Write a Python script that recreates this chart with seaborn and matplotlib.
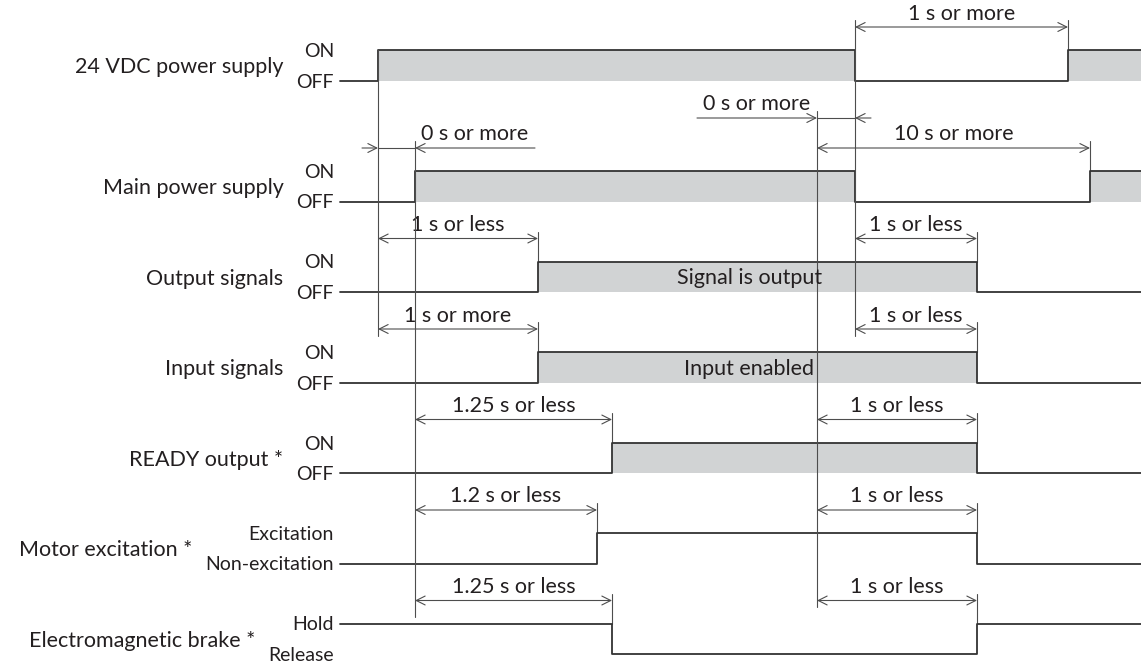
import numpy as np
import pandas as pd
import matplotlib
matplotlib.use("Agg")
import matplotlib.pyplot as plt
import seaborn as sns

# -----------------------------
# data: timing chart rows and events
# -----------------------------
signal_names = ["24 VDC power supply", "Main power supply", "Output signals", "Input signals",
                "READY output *", "Motor excitation *", "Electromagnetic brake *"]
state_labels = [("ON", "OFF"), ("ON", "OFF"), ("ON", "OFF"), ("ON", "OFF"),
                ("ON", "OFF"), ("Excitation", "Non-excitation"), ("Hold", "Release")]

# event times along the (unitless) time axis of the chart
t_start = 340
t_24v_on = 378
t_main_on = 415
t_io_on = 538
t_motor_on = 597
t_ready_on = 612
t_stop = 817
t_off = 855
t_io_off = 977
t_24v_back = 1068
t_main_back = 1090
t_end = 1141

signal_edges = [
    [t_24v_on, t_off, t_24v_back],
    [t_main_on, t_off, t_main_back],
    [t_io_on, t_io_off],
    [t_io_on, t_io_off],
    [t_ready_on, t_io_off],
    [t_motor_on, t_io_off],
    [t_ready_on, t_io_off],
]
initial_state = [0, 0, 0, 0, 0, 0, 1]
shaded = [True, True, True, True, True, False, False]
band_text = {2: "Signal is output", 3: "Input enabled"}

# (row, from, to, label)
dims = [
    (0, t_off, t_24v_back, "1 s or more"),
    (1, t_stop, t_main_back, "10 s or more"),
    (2, t_24v_on, t_io_on, "1 s or less"),
    (2, t_off, t_io_off, "1 s or less"),
    (3, t_24v_on, t_io_on, "1 s or more"),
    (3, t_off, t_io_off, "1 s or less"),
    (4, t_main_on, t_ready_on, "1.25 s or less"),
    (4, t_stop, t_io_off, "1 s or less"),
    (5, t_main_on, t_motor_on, "1.2 s or less"),
    (5, t_stop, t_io_off, "1 s or less"),
    (6, t_main_on, t_ready_on, "1.25 s or less"),
    (6, t_stop, t_io_off, "1 s or less"),
]
# (row, from, to, label, side of text, raised)
outer_dims = [
    (1, t_24v_on, t_main_on, "0 s or more", "right", False),
    (1, t_stop, t_off, "0 s or more", "left", True),
]
reference_events = [t_24v_on, t_main_on, t_stop, t_off]

# -----------------------------
# layout helpers
# -----------------------------
LINE = "#333333"
GUIDE = "#4d4d4d"
FILL = "#d1d3d4"
TXT = "#231f20"
FS = 15.5
FS_STATE = 14
SWING = 30.5


def high(i):
    return 50 if i == 0 else 171 + (i - 1) * 90.5


def low(i):
    return high(i) + SWING


def arrow_y(i, raised=False):
    return high(i) - (53 if raised else 23)


sns.set_theme(style="white")
plt.rcParams["font.family"] = ["Lato", "DejaVu Sans"]

fig = plt.figure(figsize=(11.41, 6.65), dpi=100)
ax = fig.add_axes([0, 0, 1, 1])
ax.set_xlim(0, 1141)
ax.set_ylim(665, 0)
ax.axis("off")

# -----------------------------
# waveforms
# -----------------------------
for i, edges in enumerate(signal_edges):
    state = initial_state[i]
    xs, ys = [t_start], [high(i) if state else low(i)]
    for e in edges:
        xs += [e, e]
        ys += [high(i) if state else low(i)]
        state = 1 - state
        ys += [high(i) if state else low(i)]
    xs.append(t_end)
    ys.append(high(i) if state else low(i))
    if shaded[i]:
        ax.fill_between(xs, ys, low(i), color=FILL, lw=0, zorder=1)
    wave = pd.DataFrame({"t": xs, "level": ys})
    sns.lineplot(data=wave, x="t", y="level", sort=False, estimator=None,
                 color=LINE, lw=1.3, legend=False, ax=ax, zorder=3)
    if i in band_text:
        ax.text((edges[0] + edges[1]) / 2 - 8, (high(i) + low(i)) / 2 + 7.5, band_text[i],
                ha="center", va="baseline", fontsize=FS, color=TXT, zorder=5)

# -----------------------------
# labels
# -----------------------------
fig.canvas.draw()
renderer = fig.canvas.get_renderer()
inv = ax.transData.inverted()
for i, name in enumerate(signal_names):
    on, off = state_labels[i]
    t1 = ax.text(334, high(i) + 7, on, ha="right", va="baseline", fontsize=FS_STATE, color=TXT)
    t2 = ax.text(334, low(i) + 7, off, ha="right", va="baseline", fontsize=FS_STATE, color=TXT)
    left = min(inv.transform(t.get_window_extent(renderer))[:, 0].min() for t in (t1, t2))
    ax.text(left - 13, (high(i) + low(i)) / 2 + 8, name, ha="right", va="baseline",
            fontsize=FS, color=TXT)

# -----------------------------
# dimension arrows
# -----------------------------
aprops = dict(color=GUIDE, lw=0.8, shrinkA=0, shrinkB=0, mutation_scale=16)

def tick(x, y, i):
    ax.plot([x, x], [y - 7, high(i)], color=GUIDE, lw=0.8, zorder=2)

for i, a, b, label in dims:
    y = arrow_y(i)
    ax.annotate("", xy=(b, y), xytext=(a, y),
                arrowprops=dict(arrowstyle="<->,head_length=0.4,head_width=0.2", **aprops))
    for x in (a, b):
        if x not in reference_events:
            tick(x, y, i)
    ax.text((a + b) / 2, y - 7.5, label, ha="center", va="baseline", fontsize=FS, color=TXT)

for i, a, b, label, side, raised in outer_dims:
    y = arrow_y(i, raised)
    short, long_ = 16, 120
    la = a - (long_ if side == "left" else short)
    rb = b + (long_ if side == "right" else short)
    ax.annotate("", xy=(a, y), xytext=(la, y),
                arrowprops=dict(arrowstyle="->,head_length=0.4,head_width=0.2", **aprops))
    ax.annotate("", xy=(b, y), xytext=(rb, y),
                arrowprops=dict(arrowstyle="->,head_length=0.4,head_width=0.2", **aprops))
    ax.plot([a, b], [y, y], color=GUIDE, lw=0.8)
    cx = (b + rb) / 2 if side == "right" else (la + a) / 2
    ax.text(cx, y - 7.5, label, ha="center", va="baseline", fontsize=FS, color=TXT)

# long reference lines through the rows
guides = [
    (t_24v_on, high(0), arrow_y(3) + 7),
    (t_main_on, arrow_y(1) - 7, arrow_y(6) + 16),
    (t_stop, arrow_y(1, True) - 7, arrow_y(6) + 6),
    (t_off, arrow_y(0) - 7, arrow_y(3) + 7),
]
for x, y0, y1 in guides:
    ax.plot([x, x], [y0, y1], color=GUIDE, lw=0.8, zorder=4)

fig.savefig("out.png", dpi=100)
